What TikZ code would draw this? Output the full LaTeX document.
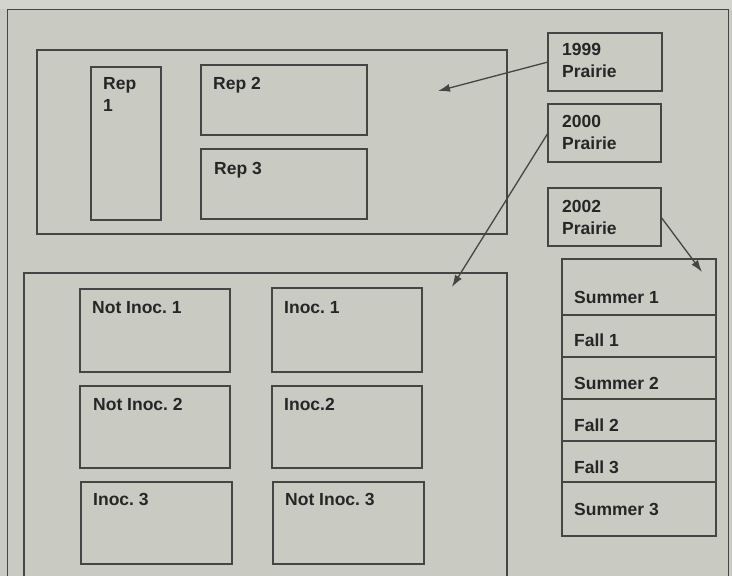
\documentclass[tikz,border=0pt]{standalone}
\usepackage{fontspec}
\setmainfont{Liberation Sans}
\usetikzlibrary{arrows.meta}
\definecolor{bg}{HTML}{C9CBC3}
\definecolor{bgtop}{HTML}{D3D5CD}
\definecolor{ln}{HTML}{454543}
\definecolor{tx}{HTML}{262626}
\frenchspacing
\begin{document}
\frenchspacing
\begin{tikzpicture}[x=1pt,y=-1pt,
  box/.style={draw=ln, line width=1.3pt, inner sep=0pt, outer sep=0pt, anchor=north west},
  lbl/.style={anchor=north west, inner sep=0pt, text=tx, font=\fontsize{17.5}{22}\selectfont\bfseries\frenchspacing, align=left},
  arr/.style={draw=ln, line width=1.3pt, -{Latex[length=12pt,width=8pt]}}]
\useasboundingbox (0,0) rectangle (732,576);
\fill[bgtop] (0,0) rectangle (732,9);
\fill[bg] (0,9) rectangle (732,576);
\draw[ln, line width=1pt] (7,590) -- (7,9) -- (728,9) -- (728,590);
% top block
\node[box, minimum width=470pt, minimum height=184pt] (top) at (37,50) {};
\node[box, minimum width=70pt, minimum height=153pt] (rep1) at (91,67) {};
\node[box, minimum width=166pt, minimum height=70pt] (rep2) at (201,65) {};
\node[box, minimum width=166pt, minimum height=70pt] (rep3) at (201,149) {};
\node[lbl] (trep1) at (103,77) {Rep\\1};
\node[lbl] (trep2) at (213,77) {Rep 2};
\node[lbl] (trep3) at (214,162) {Rep 3};
% year boxes
\node[box, minimum width=114pt, minimum height=58pt] (y1999) at (548,33) {};
\node[box, minimum width=113pt, minimum height=58pt] (y2000) at (548,104) {};
\node[box, minimum width=113pt, minimum height=58pt] (y2002) at (548,188) {};
\node[lbl] (t1999) at (562,43) {1999\\Prairie};
\node[lbl] (t2000) at (562,115) {2000\\Prairie};
\node[lbl] (t2002) at (562,200) {2002\\Prairie};
% bottom block
\node[box, minimum width=483pt, minimum height=330pt] (bot) at (24,273) {};
\node[box, minimum width=150pt, minimum height=83pt] (ni1) at (80,289) {};
\node[box, minimum width=150pt, minimum height=84pt] (i1) at (272,288) {};
\node[box, minimum width=150pt, minimum height=82pt] (ni2) at (80,386) {};
\node[box, minimum width=150pt, minimum height=82pt] (i2) at (272,386) {};
\node[box, minimum width=151pt, minimum height=82pt] (i3) at (81,482) {};
\node[box, minimum width=151pt, minimum height=82pt] (ni3) at (273,482) {};
\node[lbl] (tni1) at (92,301) {Not Inoc. 1};
\node[lbl] (ti1) at (284,301) {Inoc. 1};
\node[lbl] (tni2) at (93,398) {Not Inoc. 2};
\node[lbl] (ti2) at (284,398) {Inoc.2};
\node[lbl] (ti3) at (93,493) {Inoc. 3};
\node[lbl] (tni3) at (285,493) {Not Inoc. 3};
% season stack
\node[box, minimum width=154pt, minimum height=56pt] (s1) at (562,259) {};
\node[box, minimum width=154pt, minimum height=42pt] (f1) at (562,315) {};
\node[box, minimum width=154pt, minimum height=42pt] (s2) at (562,357) {};
\node[box, minimum width=154pt, minimum height=42pt] (f2) at (562,399) {};
\node[box, minimum width=154pt, minimum height=41pt] (f3) at (562,441) {};
\node[box, minimum width=154pt, minimum height=54pt] (s3) at (562,482) {};
\node[lbl] (ts1) at (574,291) {Summer 1};
\node[lbl] (tf1) at (574,334) {Fall 1};
\node[lbl] (ts2) at (574,377) {Summer 2};
\node[lbl] (tf2) at (574,419) {Fall 2};
\node[lbl] (tf3) at (574,461) {Fall 3};
\node[lbl] (ts3) at (574,503) {Summer 3};
% arrows
\coordinate (a1) at (438,91);
\coordinate (a2) at (452,287);
\coordinate (a3) at (702,272);
\draw[arr] (y1999.west) -- (a1);
\draw[arr] (y2000.west) -- (a2);
\draw[arr] (y2002.east) -- (a3);
\end{tikzpicture}
\end{document}
